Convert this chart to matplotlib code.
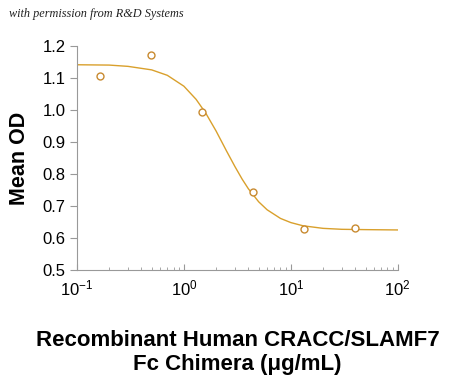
import matplotlib
matplotlib.use('Agg')
import matplotlib.pyplot as plt
from matplotlib.ticker import LogLocator, NullFormatter

plt.rcParams['font.family'] = ['Liberation Sans', 'DejaVu Sans']
plt.rcParams['mathtext.fontset'] = 'custom'
plt.rcParams['mathtext.rm'] = 'Liberation Sans'
plt.rcParams['mathtext.default'] = 'regular'

# measured points (ug/mL, mean OD)
conc = [0.164, 0.49, 1.48, 4.44, 13.3, 40.0]
od = [1.105, 1.170, 0.992, 0.742, 0.628, 0.630]

# fitted curve
curve_x = [0.1, 0.2, 0.3, 0.5, 0.7, 1.0, 1.3, 1.6, 2.0, 2.5, 3.0, 3.5,
           4.0, 5.0, 6.0, 8.0, 10, 13, 20, 30, 50, 100]
curve_y = [1.141, 1.140, 1.136, 1.125, 1.108, 1.074, 1.033, 0.990, 0.934,
           0.872, 0.823, 0.784, 0.754, 0.713, 0.688, 0.661, 0.648, 0.638,
           0.630, 0.627, 0.626, 0.625]

line_color = '#D9A02C'
marker_color = '#C88A30'

fig = plt.figure(figsize=(4.5, 3.76), dpi=100)
ax = fig.add_axes([0.171, 0.282, 0.713, 0.596])

ax.plot(curve_x, curve_y, color=line_color, linewidth=1.0)
ax.plot(conc, od, linestyle='none', marker='o', markersize=5,
        markerfacecolor='white', markeredgecolor=marker_color, markeredgewidth=1.0)

ax.set_xscale('log')
ax.set_xlim(0.1, 100)
ax.set_ylim(0.5, 1.2)
ax.set_yticks([0.5, 0.6, 0.7, 0.8, 0.9, 1.0, 1.1, 1.2])
ax.set_yticklabels(['0.5', '0.6', '0.7', '0.8', '0.9', '1.0', '1.1', '1.2'])
ax.xaxis.set_minor_locator(LogLocator(base=10, subs=range(2, 10)))
ax.xaxis.set_minor_formatter(NullFormatter())

for s in ['top', 'right']:
    ax.spines[s].set_visible(False)
for s in ['left', 'bottom']:
    ax.spines[s].set_color('#999999')

ax.tick_params(axis='y', direction='out', length=5, color='#999999', labelsize=12, pad=3)
ax.tick_params(axis='x', which='major', direction='in', length=4, color='#999999', labelsize=12, pad=6)
ax.tick_params(axis='x', which='minor', direction='in', length=2, color='#999999')

ax.set_ylabel('Mean OD', fontsize=15.5, fontweight='bold', labelpad=9)
ax.set_xlabel('Recombinant Human CRACC/SLAMF7\nFc Chimera (\u03bcg/mL)',
              fontsize=16, fontweight='bold', labelpad=23, linespacing=1.15)

fig.text(0.02, 0.955, 'with permission from R&D Systems', fontsize=8.8,
         style='italic', family='Liberation Serif', color='#222222')

fig.savefig('out.png', dpi=100)
